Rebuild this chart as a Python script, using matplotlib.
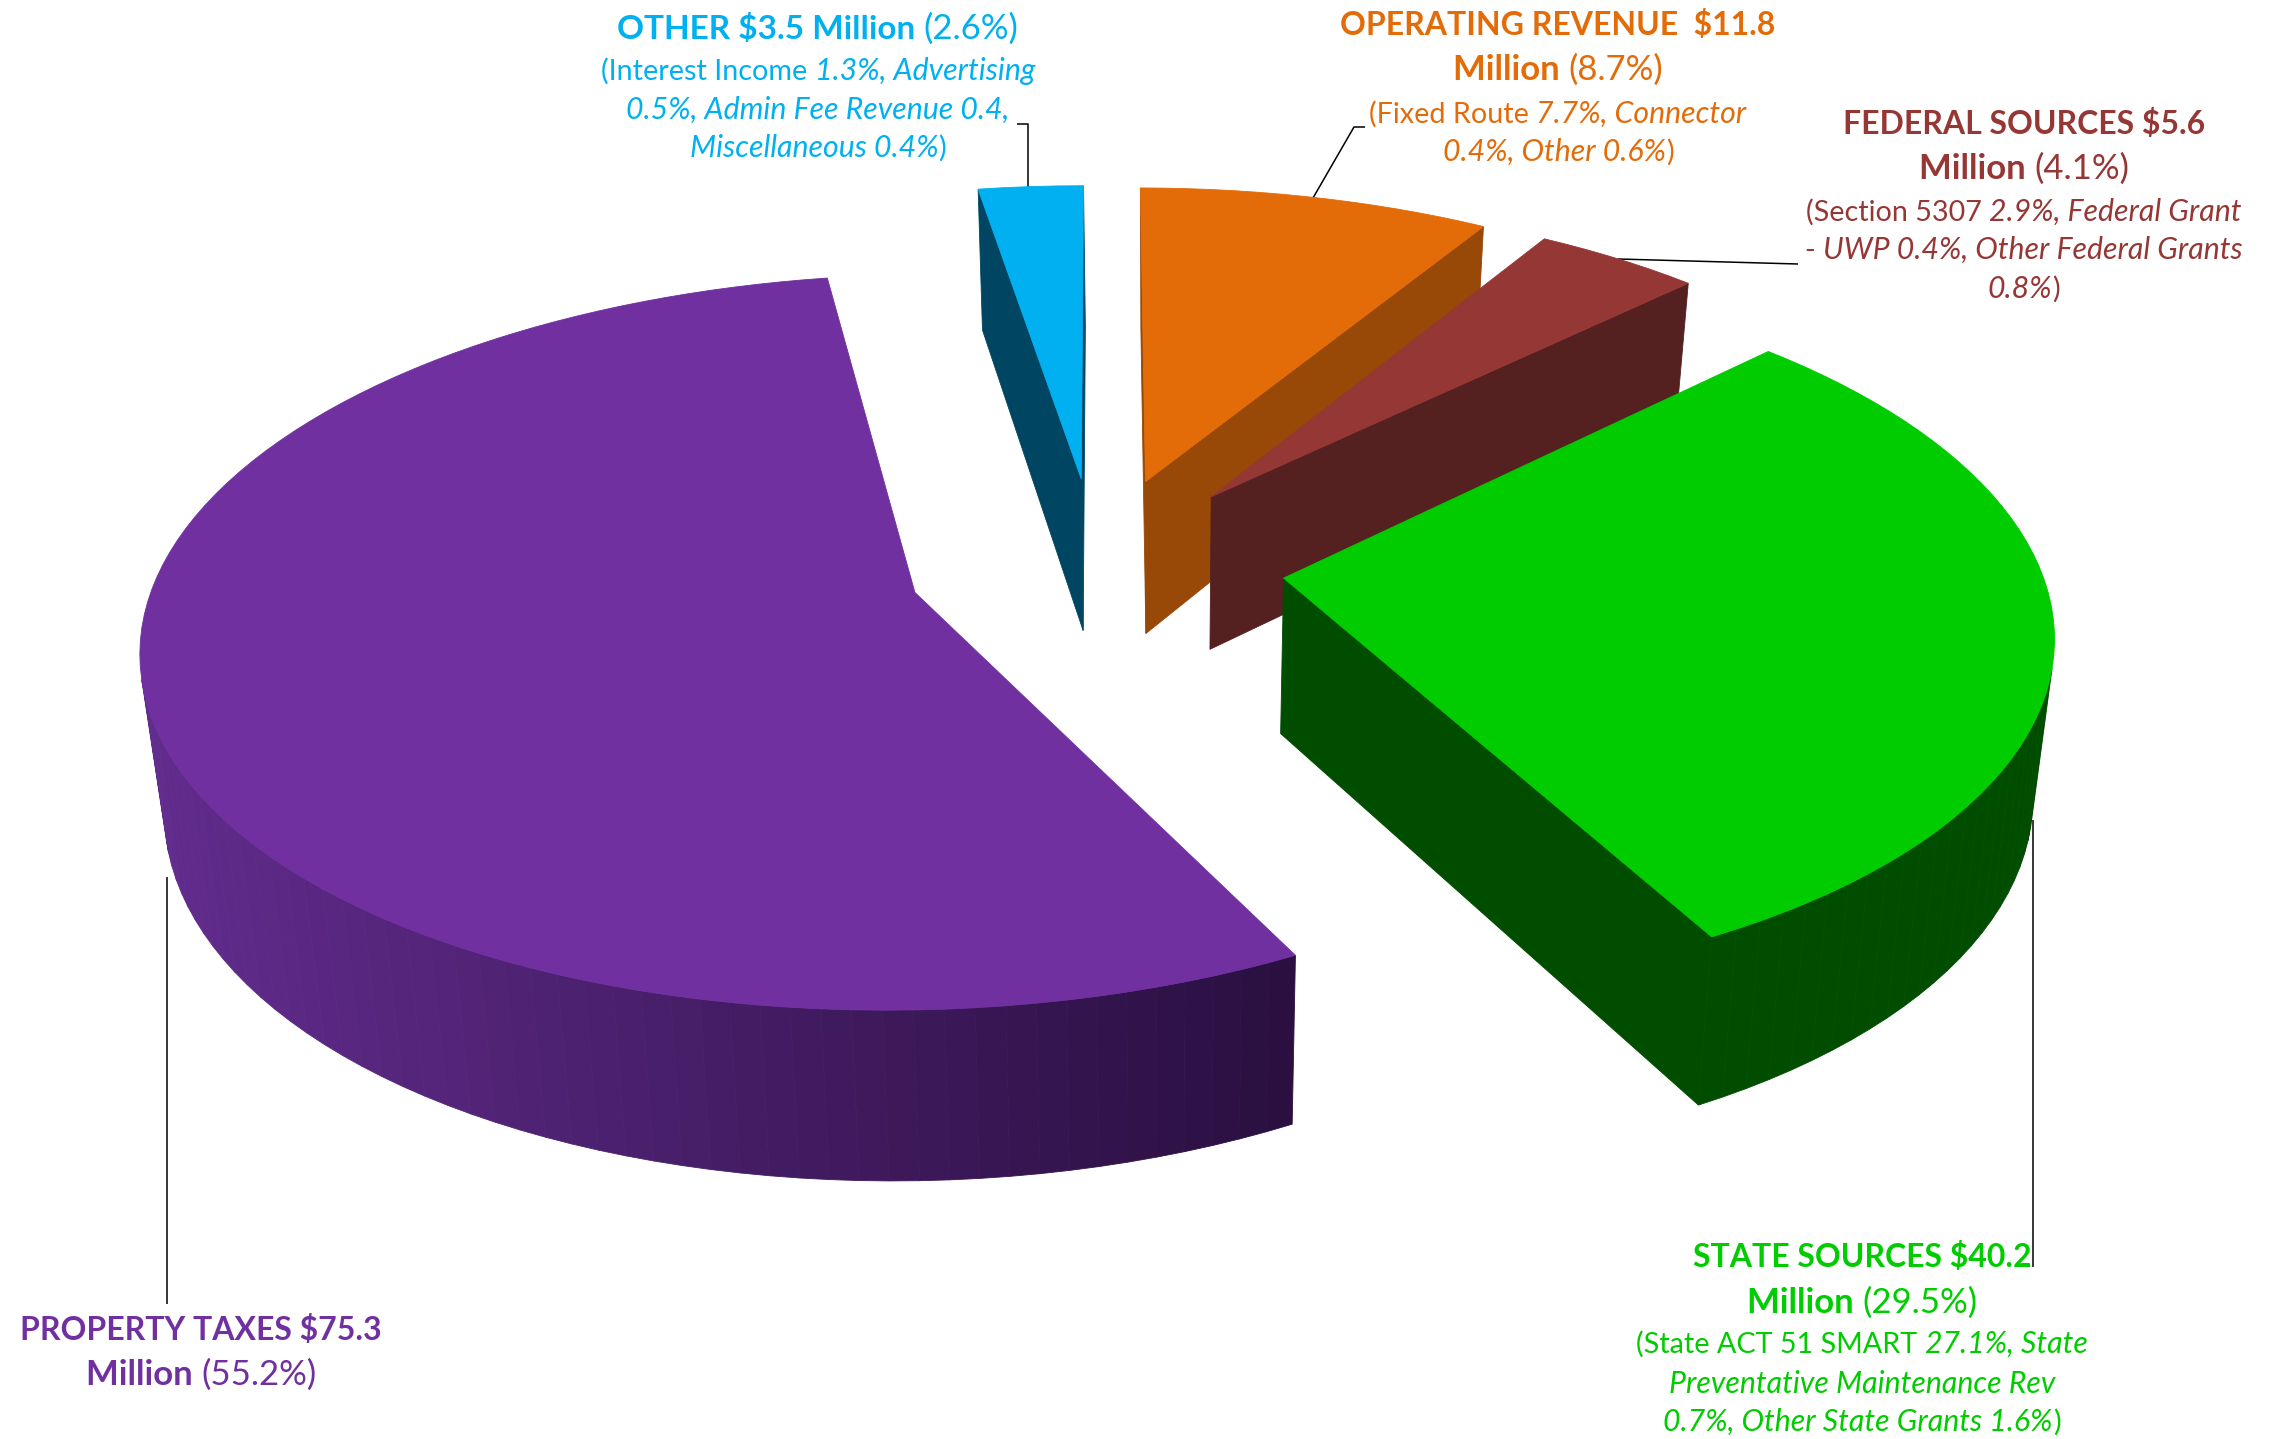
import numpy as np
import matplotlib
matplotlib.use("Agg")
import matplotlib.pyplot as plt

# ---- data ----
categories = ["OTHER", "OPERATING REVENUE", "FEDERAL SOURCES", "STATE SOURCES", "PROPERTY TAXES"]
amounts = [3.5, 11.8, 5.6, 40.2, 75.3]
percents = [2.6, 8.7, 4.1, 29.5, 55.2]

top_colors = ["#00B0F0", "#E36C09", "#953735", "#00CC00", "#7030A0"]
side_colors = ["#004561", "#984807", "#552020", "#004D00", "#4F2370"]

labels = [
    (818, [(39, [("b", "OTHER $3.5 Million "), ("r", "(2.6%)")]),
           (80, [("r", "(Interest Income "), ("i", "1.3%, Advertising")]),
           (119, [("i", "0.5%, Admin Fee Revenue 0.4,")]),
           (157, [("i", "Miscellaneous 0.4%"), ("r", ")")])]),
    (1558, [(35, [("b", "OPERATING REVENUE  $11.8")]),
            (80, [("b", "Million "), ("r", "(8.7%)")]),
            (123, [("r", "(Fixed Route "), ("i", "7.7%, Connector")]),
            (161, [("i", "0.4%, Other 0.6%"), ("r", ")")])]),
    (2024, [(134, [("b", "FEDERAL SOURCES $5.6")]),
            (179, [("b", "Million "), ("r", "(4.1%)")]),
            (221, [("r", "(Section 5307 "), ("i", "2.9%, Federal Grant")]),
            (259, [("r", "- "), ("i", "UWP 0.4%, Other Federal Grants")]),
            (298, [("i", "0.8%"), ("r", ")")])]),
    (1862, [(1267, [("b", "STATE SOURCES $40.2")]),
            (1313, [("b", "Million "), ("r", "(29.5%)")]),
            (1353, [("r", "(State ACT 51 SMART "), ("i", "27.1%, State")]),
            (1393, [("i", "Preventative Maintenance Rev")]),
            (1431, [("i", "0.7%, Other State Grants 1.6%"), ("r", ")")])]),
    (201, [(1340, [("b", "PROPERTY TAXES $75.3")]),
           (1385, [("b", "Million "), ("r", "(55.2%)")])]),
]

leaders = [
    ([1028, 1028, 1017], [187, 124, 124]),
    ([1313, 1354, 1365], [198, 127, 127]),
    ([1618, 1798], [259, 264]),
    ([2033, 2033], [820, 1267]),
    ([166.5, 166.5], [877, 1304]),
]

# ---- view ----
W, H_PX = 2274, 1439
CX, CY, F, G, K = 1096, 564, 756, 353.5, 0.134
DEPTH, DEPTH_POW, VX, SHRINK = 155, 0.62, 1160, 0.976
EXPLODE = 0.25
START = 350.7

fig = plt.figure(figsize=(W / 100, H_PX / 100), dpi=100)
ax = fig.add_axes([0, 0, 1, 1])
ax.set_xlim(0, W)
ax.set_ylim(H_PX, 0)
ax.axis("off")


def proj(u, v, low):
    d = 1 - K * v
    x = CX + F * u / d
    y = CY + G * v / d
    if low:
        x = VX + (x - VX) * SHRINK
        y = y + DEPTH / d ** DEPTH_POW
    return np.array([x, y])


def area(p):
    p = np.array(p)
    return np.sum(p[:, 0] * np.roll(p[:, 1], -1) - np.roll(p[:, 0], -1) * p[:, 1])


def lerp(c1, c2, t):
    a, b = np.array(matplotlib.colors.to_rgb(c1)), np.array(matplotlib.colors.to_rgb(c2))
    return tuple(a + (b - a) * t)


def face(pts, c, z):
    pts = np.array(pts)
    ax.fill(pts[:, 0], pts[:, 1], color=c, lw=0.6, zorder=z)


total = sum(percents)
ang = START
z = 2
for i, p in enumerate(percents):
    a0, a1 = ang, ang + p / total * 360
    ang = a1
    mid = np.radians((a0 + a1) / 2)
    ou, ov = EXPLODE * np.sin(mid), -EXPLODE * np.cos(mid)
    n = max(4, int((a1 - a0) / 2))
    th = np.radians(np.linspace(a0, a1, n + 1))
    loop = [(ou, ov)] + [(ou + np.sin(t), ov - np.cos(t)) for t in th]
    tops = [proj(u, v, False) for u, v in loop]
    lows = [proj(u, v, True) for u, v in loop]
    m = len(loop)
    xs = np.array([t[0] for t in tops[1:]])
    for j in range(m):
        k = (j + 1) % m
        q = [tops[j], tops[k], lows[k], lows[j]]
        if area(q) < 0:
            c = side_colors[i]
            if i == len(percents) - 1 and j not in (0, m - 1):
                # shaded outer wall of the largest slice
                t = (tops[j][0] - xs.min()) / (xs.max() - xs.min())
                c = lerp("#622C8E", "#2A0F40", t)
            face(q, c, z)
            z += 0.001
    face(tops, top_colors[i], z + 0.5)
    z += 1

for xs, ys in leaders:
    ax.plot(xs, ys, color="black", lw=1.1, zorder=1, solid_capstyle="butt")

# ---- text ----
plt.rcParams["font.family"] = ["Lato", "DejaVu Sans"]
renderer = fig.canvas.get_renderer()
STYLE = {"b": dict(fontweight="bold"), "r": dict(fontweight="normal"), "i": dict(fontstyle="italic")}


def width(s, kw):
    t = ax.text(0, 0, "|" + s + "|", **kw)
    w1 = t.get_window_extent(renderer).width
    t.set_text("||")
    w2 = t.get_window_extent(renderer).width
    t.remove()
    return w1 - w2


def run_size(kind, txt, head):
    if not head:
        return 20.7 if kind == "r" else 21.8
    if kind == "r":
        return 25.0
    if txt.startswith("Million"):
        return 25.0
    return 24.0 if "Million" in txt else 23.0


for i, (cx, lines) in enumerate(labels):
    for ln, (base, runs) in enumerate(lines):
        is_head = any(r[0] == "b" for r in runs)
        kws = [dict(fontsize=run_size(s, txt, is_head), **STYLE[s]) for s, txt in runs]
        ws = [width(txt, kw) for (_, txt), kw in zip(runs, kws)]
        x = cx - sum(ws) / 2
        for (s, txt), kw, w in zip(runs, kws, ws):
            ax.text(x, base, txt, color=top_colors[i], ha="left", va="baseline", zorder=50, **kw)
            x += w

fig.savefig("out.png", dpi=100, facecolor="white")
